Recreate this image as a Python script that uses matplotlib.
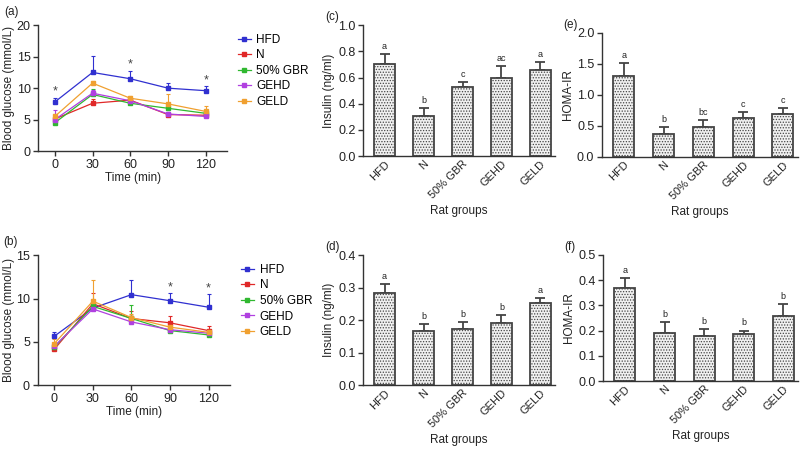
import matplotlib
matplotlib.use("Agg")
import matplotlib.pyplot as plt
from matplotlib.lines import Line2D
import numpy as np

plt.rcParams["font.family"] = "Liberation Sans"
plt.rcParams["hatch.color"] = "#b8b8b8"
plt.rcParams["hatch.linewidth"] = 0.6

times = [0, 30, 60, 90, 120]
group_names = ["HFD", "N", "50% GBR", "GEHD", "GELD"]
line_colors = ["#3030d0", "#e02828", "#30b830", "#b040e0", "#f0a030"]

# (a) blood glucose, panel 1
glu_a = {
    "HFD": [7.8, 12.5, 11.5, 10.0, 9.6],
    "N": [5.1, 7.6, 8.1, 5.8, 5.7],
    "50% GBR": [4.5, 9.0, 7.6, 6.8, 6.0],
    "GEHD": [5.0, 9.2, 8.0, 5.9, 5.5],
    "GELD": [5.5, 10.8, 8.4, 7.5, 6.3],
}
glu_a_err = {
    "HFD": [0.7, 2.6, 1.3, 0.9, 0.7],
    "N": [0.3, 0.6, 0.5, 0.3, 0.3],
    "50% GBR": [0.3, 0.9, 0.3, 0.4, 0.3],
    "GEHD": [1.6, 0.5, 0.4, 0.3, 0.3],
    "GELD": [0.4, 0.3, 0.3, 1.6, 0.8],
}
stars_a = [0, 60, 120]

# (b) blood glucose, panel 2
glu_b = {
    "HFD": [5.65, 8.9, 10.45, 9.75, 9.0],
    "N": [4.15, 9.4, 7.7, 7.2, 6.3],
    "50% GBR": [4.4, 9.1, 7.7, 6.3, 5.8],
    "GEHD": [4.5, 8.8, 7.3, 6.4, 6.0],
    "GELD": [4.8, 9.7, 7.8, 6.7, 6.1],
}
glu_b_err = {
    "HFD": [0.5, 0.4, 1.65, 0.85, 1.5],
    "N": [0.3, 1.3, 0.9, 0.8, 0.5],
    "50% GBR": [0.3, 0.5, 1.6, 0.3, 0.3],
    "GEHD": [0.3, 0.5, 0.3, 0.3, 0.3],
    "GELD": [0.5, 2.4, 0.4, 0.4, 0.4],
}
stars_b = [90, 120]

# bar panels
ins_c = [0.70, 0.31, 0.53, 0.60, 0.66]
ins_c_err = [0.08, 0.055, 0.035, 0.085, 0.06]
ins_c_lab = ["a", "b", "c", "ac", "a"]

ins_d = [0.285, 0.168, 0.172, 0.192, 0.252]
ins_d_err = [0.027, 0.021, 0.021, 0.024, 0.017]
ins_d_lab = ["a", "b", "b", "b", "a"]

homa_e = [1.30, 0.37, 0.49, 0.63, 0.70]
homa_e_err = [0.21, 0.11, 0.10, 0.10, 0.09]
homa_e_lab = ["a", "b", "bc", "c", "c"]

homa_f = [0.37, 0.19, 0.18, 0.186, 0.256]
homa_f_err = [0.038, 0.045, 0.025, 0.014, 0.048]
homa_f_lab = ["a", "b", "b", "b", "b"]

AX_COLOR = "#333333"
TXT = "#222222"
FS_TICK = 9
FS_LAB = 8.5


def style_axes(ax):
    for s in ["top", "right"]:
        ax.spines[s].set_visible(False)
    for s in ["left", "bottom"]:
        ax.spines[s].set_color(AX_COLOR)
        ax.spines[s].set_linewidth(1.0)
    ax.tick_params(colors=AX_COLOR, labelcolor=TXT, labelsize=FS_TICK,
                   width=1.0, length=3.5, direction="out", pad=2)


def line_panel(ax, data, errs, stars, ymax, ystep, label):
    handles = []
    for name, color in zip(group_names, line_colors):
        y = np.array(data[name])
        e = np.array(errs[name])
        ax.errorbar(times, y, yerr=[np.zeros_like(e), e], color=color,
                    lw=0.9, marker="s", ms=2.5, capsize=1.5, elinewidth=0.8,
                    capthick=0.8)
        handles.append(Line2D([], [], color=color, lw=0.9, marker="s",
                              ms=2.5, label=name))
    hfd = dict(zip(times, data["HFD"]))
    hfd_err = dict(zip(times, errs["HFD"]))
    for t in stars:
        ax.text(t, hfd[t] + hfd_err[t], "*", ha="center",
                va="bottom", fontsize=9, color="#444444")
    ax.set_xlim(-13, 137)
    ax.set_ylim(0, ymax)
    ax.set_xticks(times)
    ax.set_yticks(np.arange(0, ymax + 0.01, ystep))
    ax.set_xlabel("Time (min)", fontsize=FS_LAB, color=TXT, labelpad=1)
    ax.set_ylabel("Blood glucose (mmol/L)", fontsize=FS_LAB, color=TXT,
                  labelpad=1)
    style_axes(ax)
    ax.legend(handles=handles, loc="upper left", bbox_to_anchor=(1.03, 0.97),
              frameon=False, fontsize=FS_LAB, handlelength=1.1,
              handletextpad=0.5, labelspacing=0.3, borderaxespad=0)
    ax.text(-0.18, 1.08, label, transform=ax.transAxes, fontsize=FS_LAB,
            color=TXT)


def bar_panel(ax, vals, errs, letters, ymax, ystep, ylabel, label):
    x = np.arange(len(group_names))
    ax.bar(x, vals, width=0.53, color="#f0f0f0", edgecolor="#444444",
           linewidth=1.3, hatch="......", zorder=2)
    ax.errorbar(x, vals, yerr=[np.zeros(len(vals)), errs], fmt="none",
                ecolor="#444444", elinewidth=1.3, capsize=3.5, capthick=1.3,
                zorder=1)
    for xi, v, e, t in zip(x, vals, errs, letters):
        ax.text(xi, v + e + 0.025 * ymax, t, ha="center", va="bottom",
                fontsize=6.5, color=TXT)
    ax.set_xlim(-0.55, 4.38)
    ax.set_ylim(0, ymax)
    ax.set_xticks(x)
    ax.set_xticklabels(group_names, rotation=45, ha="right",
                       rotation_mode="anchor")
    ticks = np.arange(0, ymax + ystep / 10, ystep)
    ax.set_yticks(ticks)
    ax.set_yticklabels(["{:.1f}".format(t) for t in ticks])
    ax.set_xlabel("Rat groups", fontsize=FS_LAB, color=TXT, labelpad=3)
    ax.set_ylabel(ylabel, fontsize=FS_LAB, color=TXT, labelpad=2)
    style_axes(ax)
    ax.tick_params(axis="x", length=0, pad=2, labelsize=8)
    ax.text(-0.2, 1.04, label, transform=ax.transAxes, fontsize=FS_LAB,
            color=TXT)


fig = plt.figure(figsize=(8.0, 4.51), dpi=100)

ax_a = fig.add_axes([0.048, 0.665, 0.236, 0.279])
line_panel(ax_a, glu_a, glu_a_err, stars_a, 20, 5, "(a)")

ax_b = fig.add_axes([0.047, 0.146, 0.241, 0.288])
line_panel(ax_b, glu_b, glu_b_err, stars_b, 15, 5, "(b)")

ax_c = fig.add_axes([0.454, 0.654, 0.240, 0.290])
bar_panel(ax_c, ins_c, ins_c_err, ins_c_lab, 1.0, 0.2,
          "Insulin (ng/ml)", "(c)")

ax_d = fig.add_axes([0.454, 0.146, 0.240, 0.288])
bar_panel(ax_d, ins_d, ins_d_err, ins_d_lab, 0.4, 0.1,
          "Insulin (ng/ml)", "(d)")

ax_e = fig.add_axes([0.7525, 0.652, 0.245, 0.275])
bar_panel(ax_e, homa_e, homa_e_err, homa_e_lab, 2.0, 0.5, "HOMA-IR", "(e)")

ax_f = fig.add_axes([0.754, 0.155, 0.244, 0.280])
bar_panel(ax_f, homa_f, homa_f_err, homa_f_lab, 0.5, 0.1, "HOMA-IR", "(f)")

fig.savefig("out.png", dpi=100)
plt.close(fig)
